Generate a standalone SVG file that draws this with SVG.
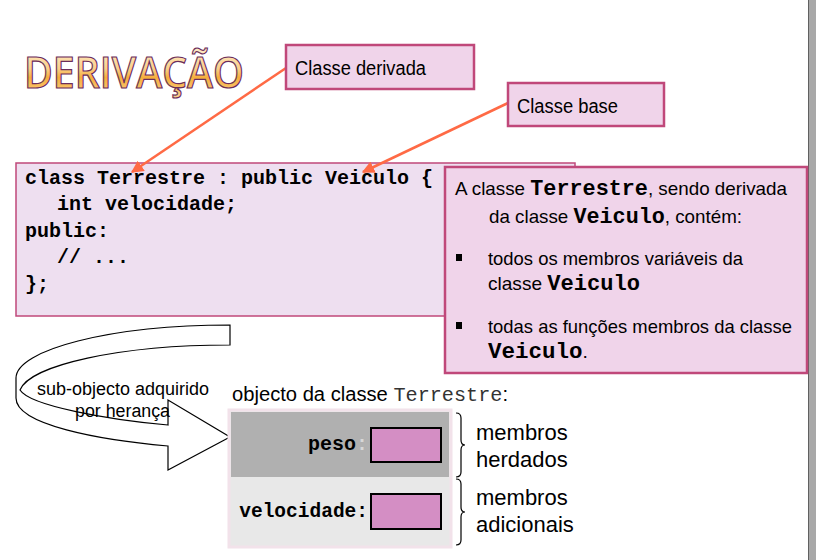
<svg xmlns="http://www.w3.org/2000/svg" width="816" height="560" viewBox="0 0 816 560">
<defs>
<linearGradient id="tg" x1="0" y1="0" x2="0" y2="1">
<stop offset="0" stop-color="#FFF2DA"/>
<stop offset="0.45" stop-color="#FBD08A"/>
<stop offset="0.6" stop-color="#F6AE3C"/>
<stop offset="1" stop-color="#FCD79A"/>
</linearGradient>
<marker id="ah" viewBox="0 0 10 10" refX="9" refY="5" markerWidth="5" markerHeight="5" orient="auto" markerUnits="strokeWidth">
<path d="M0,0 L10,5 L0,10 Z" fill="#FF6A45"/>
</marker>
<style>
.sans{font-family:"Liberation Sans",Arial,sans-serif;fill:#000}
.mono{font-family:"Liberation Mono","Courier New",monospace;font-weight:bold;fill:#000}
.callout{fill:#F0D4EA;stroke:#C0487A;stroke-width:2.5}
.conn{stroke:#FF6A45;stroke-width:2.5;fill:none}
.pbox{fill:#D48EC4;stroke:#000;stroke-width:2}
.brace{fill:none;stroke:#000;stroke-width:1.2}
</style>
</defs>
<rect x="0" y="0" width="816" height="560" fill="#FFFFFF"/>
<rect x="808" y="0" width="8" height="560" fill="#A8A8A8"/>
<line x1="808.5" y1="0" x2="808.5" y2="560" stroke="#606060" stroke-width="1"/>

<g id="title">
<text x="24" y="88" font-family="'Open Sans','Liberation Sans',sans-serif" font-size="43" font-weight="600" fill="url(#tg)" stroke="#6B2D5B" stroke-width="1.2" textLength="220" lengthAdjust="spacingAndGlyphs">DERIVAÇÃO</text>
</g>

<g id="code">
<rect x="16" y="163" width="559" height="153" fill="#EEDFF0" stroke="#C0487A" stroke-width="1.5"/>
<text class="mono" font-size="20" x="25" y="184">class Terrestre : public Veiculo {</text>
<text class="mono" font-size="20" x="57" y="210">int velocidade;</text>
<text class="mono" font-size="20" x="25" y="237">public:</text>
<text class="mono" font-size="20" x="57" y="263">// ...</text>
<text class="mono" font-size="20" x="25" y="290">};</text>
</g>

<g id="connectors">
<line class="conn" x1="286" y1="68" x2="132" y2="172" marker-end="url(#ah)"/>
<line class="conn" x1="508" y1="103" x2="363" y2="172" marker-end="url(#ah)"/>
</g>

<g id="classe-derivada">
<rect class="callout" x="286" y="45" width="188" height="44"/>
<text class="sans" font-size="20" x="295" y="75" textLength="131" lengthAdjust="spacingAndGlyphs">Classe derivada</text>
</g>

<g id="classe-base">
<rect class="callout" x="508" y="83" width="156" height="43"/>
<text class="sans" font-size="20" x="517" y="113" textLength="101" lengthAdjust="spacingAndGlyphs">Classe base</text>
</g>

<g id="descricao">
<rect class="callout" x="445" y="167" width="362" height="206"/>
<text class="sans" font-size="19" x="455" y="195" textLength="332" lengthAdjust="spacingAndGlyphs">A classe <tspan class="mono" font-size="22">Terrestre</tspan>, sendo derivada</text>
<text class="sans" font-size="19" x="489" y="223" textLength="253" lengthAdjust="spacingAndGlyphs">da classe <tspan class="mono" font-size="22">Veiculo</tspan>, contém:</text>
<rect x="456" y="254" width="6" height="7" fill="#000"/>
<text class="sans" font-size="19" x="488" y="265" textLength="255" lengthAdjust="spacingAndGlyphs">todos os membros variáveis da</text>
<text class="sans" font-size="19" x="488" y="290" textLength="152" lengthAdjust="spacingAndGlyphs">classe <tspan class="mono" font-size="22">Veiculo</tspan></text>
<rect x="456" y="322" width="6" height="7" fill="#000"/>
<text class="sans" font-size="19" x="488" y="333" textLength="304" lengthAdjust="spacingAndGlyphs">todas as funções membros da classe</text>
<text class="sans" font-size="19" x="488" y="358" textLength="100" lengthAdjust="spacingAndGlyphs"><tspan class="mono" font-size="22">Veiculo</tspan>.</text>
</g>

<g id="curved-arrow">
<path d="M230,325 C110,325 16,350 16,378 L16,398 C16,425 100,440 168,446 L168,470 L230,437 L168,400 L168,425 C110,420 30,406 20,390 C30,365 120,345 230,345 Z" fill="#FFFFFF" stroke="#000" stroke-width="1.2" stroke-linejoin="miter"/>
<text class="sans" font-size="18" x="37" y="395" textLength="172" lengthAdjust="spacingAndGlyphs">sub-objecto adquirido</text>
<text class="sans" font-size="18" x="75" y="417" textLength="95" lengthAdjust="spacingAndGlyphs">por herança</text>
</g>

<g id="objecto">
<text class="sans" font-size="20" x="232" y="401" textLength="276" lengthAdjust="spacingAndGlyphs">objecto da classe <tspan font-family="'Liberation Mono','Courier New',monospace" font-size="20" fill="#333">Terrestre</tspan>:</text>
<rect x="229" y="410" width="222" height="137" fill="#E8E8E8" stroke="#F2E2EA" stroke-width="3"/>
<rect x="231" y="412" width="218" height="65" fill="#B0B0B0"/>
<text class="mono" font-size="20" x="368" y="450" text-anchor="end">peso<tspan fill="#D8D8D8">:</tspan></text>
<rect class="pbox" x="371" y="428" width="70" height="34"/>
<text class="mono" font-size="19.5" x="368" y="517" text-anchor="end">velocidade:</text>
<rect class="pbox" x="371" y="494" width="70" height="35"/>
</g>

<g id="membros-herdados">
<path class="brace" d="M456,413 q5,0 5,5 v22 q0,5 4,5 q-4,0 -4,5 v22 q0,5 -5,5"/>
<text class="sans" font-size="22" x="476" y="440">membros</text>
<text class="sans" font-size="22" x="476" y="467">herdados</text>
</g>

<g id="membros-adicionais">
<path class="brace" d="M456,479 q5,0 5,5 v23 q0,5 4,5 q-4,0 -4,5 v23 q0,5 -5,5"/>
<text class="sans" font-size="22" x="476" y="505">membros</text>
<text class="sans" font-size="22" x="476" y="532">adicionais</text>
</g>
</svg>
